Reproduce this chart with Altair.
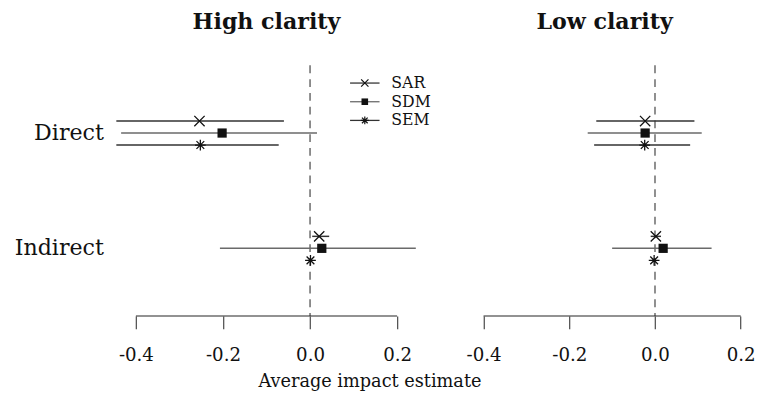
import altair as alt
import pandas as pd

effects = ["Direct", "Indirect"]
models = ["SAR", "SDM", "SEM"]
panels = ["High clarity", "Low clarity"]
x_ticks = [-0.4, -0.2, 0.0, 0.2]

# High clarity panel
high_direct_est = [-0.254, -0.202, -0.252]
high_direct_lo = [-0.445, -0.434, -0.445]
high_direct_hi = [-0.060, 0.016, -0.072]
high_indirect_est = [0.021, 0.027, 0.001]
high_indirect_lo = [0.005, -0.207, -0.002]
high_indirect_hi = [0.044, 0.243, 0.004]

# Low clarity panel
low_direct_est = [-0.023, -0.023, -0.024]
low_direct_lo = [-0.137, -0.157, -0.142]
low_direct_hi = [0.092, 0.109, 0.082]
low_indirect_est = [0.002, 0.019, -0.002]
low_indirect_lo = [-0.010, -0.100, -0.006]
low_indirect_hi = [0.014, 0.132, 0.002]

FONT = "DejaVu Serif"
H = 255
X_PATH = "M-1,-1L1,1M-1,1L1,-1"
AST_PATH = "M-1,0L1,0M0,-1L0,1M-0.72,-0.72L0.72,0.72M-0.72,0.72L0.72,-0.72"


def make_df(d_est, d_lo, d_hi, i_est, i_lo, i_hi):
    rows = []
    for eff, est, lo, hi in [("Direct", d_est, d_lo, d_hi), ("Indirect", i_est, i_lo, i_hi)]:
        for m, e, l, h in zip(models, est, lo, hi):
            rows.append({"effect": eff, "model": m, "est": e, "lo": l, "hi": h})
    return pd.DataFrame(rows)


high_df = make_df(high_direct_est, high_direct_lo, high_direct_hi,
                  high_indirect_est, high_indirect_lo, high_indirect_hi)
low_df = make_df(low_direct_est, low_direct_lo, low_direct_hi,
                 low_indirect_est, low_indirect_lo, low_indirect_hi)

label_expr = "datum.value < 0 ? '-' + format(-datum.value, '.1f') : format(datum.value, '.1f')"


def xenc(field, domain):
    return alt.X(field, type="quantitative",
                 scale=alt.Scale(domain=domain, nice=False, zero=False, padding=0),
                 axis=alt.Axis(values=x_ticks, labelExpr=label_expr, domain=False,
                               ticks=True, tickSize=13, tickColor="#222", tickWidth=1,
                               labelFont=FONT, labelFontSize=18.5, labelPadding=17,
                               labelColor="#111", grid=False, title=None))


def panel(title, df, domain, width, show_y, show_legend):
    yaxis = alt.Axis(domain=False, ticks=False, labelFont=FONT, labelFontSize=22.5,
                     labelPadding=11, labelColor="#111", title=None, labelAngle=0) if show_y else None
    yenc = alt.Y("effect:N", scale=alt.Scale(domain=effects, paddingInner=0.688, paddingOuter=0.431),
                 axis=yaxis)
    yoff = alt.YOffset("model:N", scale=alt.Scale(domain=models, paddingInner=0, paddingOuter=0))

    base = alt.Chart(df)
    zero = alt.Chart(pd.DataFrame({"z": [0.0]})).mark_rule(
        strokeDash=[8, 6], color="#444", strokeWidth=1.2
    ).encode(x=xenc("z", domain), y=alt.value(0), y2=alt.value(H))
    axis_line = alt.Chart(pd.DataFrame({"a": [x_ticks[0]], "b": [x_ticks[-1]]})).mark_rule(
        color="#222", strokeWidth=1
    ).encode(x=xenc("a", domain), x2="b:Q", y=alt.value(H))
    bars = base.mark_rule(strokeWidth=1.5).encode(
        x=xenc("lo", domain), x2="hi:Q", y=yenc, yOffset=yoff,
        color=alt.Color("model:N", scale=alt.Scale(domain=models, range=["#333", "#6a6a6a", "#333"]),
                        legend=None),
    )
    sar = base.transform_filter(alt.datum.model == "SAR").mark_point(
        shape=X_PATH, size=110, filled=False, color="#111", strokeWidth=1.3, opacity=1
    ).encode(x=xenc("est", domain), y=yenc, yOffset=yoff)
    sdm = base.transform_filter(alt.datum.model == "SDM").mark_point(
        shape="square", size=88, filled=True, color="#111", opacity=1
    ).encode(x=xenc("est", domain), y=yenc, yOffset=yoff)
    sem = base.transform_filter(alt.datum.model == "SEM").mark_point(
        shape=AST_PATH, size=120, filled=False, color="#111", strokeWidth=1.3, opacity=1
    ).encode(x=xenc("est", domain), y=yenc, yOffset=yoff)

    layers = [zero, axis_line, bars, sar, sdm, sem]

    if show_legend:
        shapes = [X_PATH, "square", AST_PATH]
        sizes = [55, 45, 65]
        lcolors = ["#333", "#6a6a6a", "#333"]
        rows_y = [18, 37, 56]
        for m, shp, sz, lc, ry in zip(models, shapes, sizes, lcolors, rows_y):
            ldf = pd.DataFrame({"model": [m]})
            layers.append(alt.Chart(ldf).mark_rule(color=lc, strokeWidth=1.3).encode(
                x=alt.value(240), x2=alt.value(270), y=alt.value(ry)))
            layers.append(alt.Chart(ldf).mark_point(
                shape=shp, size=sz, filled=(shp == "square"), color="#111",
                strokeWidth=1.2, opacity=1).encode(x=alt.value(255), y=alt.value(ry)))
            layers.append(alt.Chart(ldf).mark_text(
                font=FONT, fontSize=16, align="left", baseline="middle", color="#111"
            ).encode(x=alt.value(282), y=alt.value(ry), text="model:N"))

    return alt.layer(*layers).properties(
        width=width, height=H,
        title=alt.TitleParams(title, font=FONT, fontSize=22.5, fontWeight="bold",
                              color="#111", anchor="middle", offset=31.5),
    )


left = panel(panels[0], high_df, [-0.45, 0.25], 310, True, True)
right = panel(panels[1], low_df, [-0.45, 0.215], 290, False, False)

chart = alt.hconcat(left, right, spacing=31).properties(
    title=alt.TitleParams("Average impact estimate", orient="bottom", font=FONT, fontSize=18,
                          fontWeight="normal", color="#111", anchor="middle", offset=10, dx=-15),
    padding={"left": 6, "top": 0, "right": 0, "bottom": 0},
).configure(font=FONT).configure_axis(labelFont=FONT).configure_view(stroke=None)

chart.save("out.html", embed_options={"renderer": "svg", "actions": False})
